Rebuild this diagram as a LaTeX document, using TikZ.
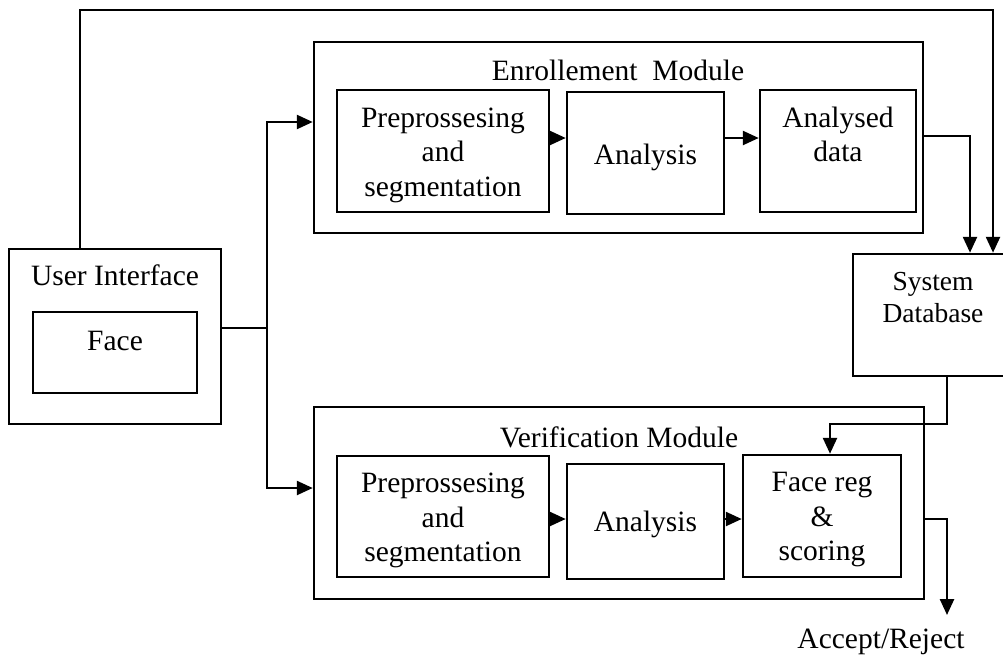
\documentclass[tikz,border=0pt]{standalone}
\usepackage{fontspec}
\setmainfont{Liberation Serif}
\usetikzlibrary{arrows.meta,calc}
\newcommand{\mainfs}{\fontsize{29.5}{34.5}\selectfont}
\newcommand{\smallfs}{\fontsize{27.5}{32}\selectfont}
\begin{document}
\begin{tikzpicture}[x=1pt,y=-1pt,line width=2.5pt,
  box/.style={draw,line width=2.5pt,inner sep=0pt},
  txt/.style={inner sep=0pt,align=center,font=\mainfs,anchor=base},
  txtc/.style={inner sep=0pt,align=center,font=\mainfs},
  arr/.style={-{Triangle[length=16pt,width=14pt]}},
  conn/.style={line width=2.5pt,line join=miter}]
\useasboundingbox (0,0) rectangle (1003,656);
% boxes
\node[box,minimum width=212pt,minimum height=175pt] (ui) at (115,336.5) {};
\node[box,minimum width=164pt,minimum height=81pt] (face) at (115,352.5) {};
\node[box,minimum width=609pt,minimum height=191pt] (enr) at (618.5,137.5) {};
\node[box,minimum width=212pt,minimum height=122pt] (ep) at (443,151) {};
\node[box,minimum width=157pt,minimum height=122pt] (ea) at (645.5,153) {};
\node[box,minimum width=156pt,minimum height=122pt] (ed) at (838,151) {};
\node[box,minimum width=162pt,minimum height=122pt] (db) at (934,315) {};
\node[box,minimum width=610pt,minimum height=192pt] (ver) at (619,503) {};
\node[box,minimum width=212pt,minimum height=121pt] (vp) at (443,516.5) {};
\node[box,minimum width=157pt,minimum height=115pt] (va) at (645.5,521.5) {};
\node[box,minimum width=158pt,minimum height=122pt] (fr) at (822,516) {};
% texts
\node[txtc] (tep) at ($(ep)+(0,4)$) {Preprossesing\\and\\segmentation};
\node[txtc] (tea) at ($(ea)+(0,4)$) {Analysis};
\node[txtc] (tvp) at ($(vp)+(0,4)$) {Preprossesing\\and\\segmentation};
\node[txtc] (tva) at ($(va)+(0,3)$) {Analysis};
\node[txtc] (tfr) at ($(fr)+(0,4)$) {Face reg\\\&\\scoring};
\node[txt] (tenr) at (618,80) {Enrollement\ \ Module};
\node[txt] (tver) at (619,447) {Verification Module};
\node[txt] (tui) at (115,285) {User Interface};
\node[txt] (tface) at (115,350) {Face};
\node[txt] (ted1) at (838,127) {Analysed};
\node[txt] (ted2) at (838,161) {data};
\node[txt,font=\smallfs] (tdb1) at (933,290) {System};
\node[txt,font=\smallfs] (tdb2) at (933,322) {Database};
\node[txt] (tacc) at (881,648) {Accept/Reject};
% connector coordinates
\coordinate (t1) at (80,10);
\coordinate (t2) at (993,10);
\coordinate (e1) at (970,136);
\coordinate (jx) at (267,328);
\coordinate (ja) at (267,122);
\coordinate (jb) at (267,488);
\coordinate (a1) at (0,138);
\coordinate (a2) at (0,519);
\coordinate (k1) at (947,424);
\coordinate (k2) at (830,424);
\coordinate (o1) at (947,519);
\coordinate (o2) at (947,615);
% connectors
\draw[conn,arr] (ui.north -| t1) -- (t1) -- (t2) -- (t2 |- db.north);
\draw[conn,arr] (e1 -| enr.east) -- (e1) -- (e1 |- db.north);
\draw[conn] (jx -| ui.east) -- (jx);
\draw[conn,arr] (jx) -- (ja) -- (ja -| enr.west);
\draw[conn,arr] (jx) -- (jb) -- (jb -| ver.west);
\draw[conn,arr] (a1 -| ep.east) -- (a1 -| ea.west);
\draw[conn,arr] (a1 -| ea.east) -- (a1 -| ed.west);
\draw[conn,arr] (a2 -| vp.east) -- (a2 -| va.west);
\draw[conn,arr] (a2 -| va.east) -- (a2 -| fr.west);
\draw[conn,arr] (k1 |- db.south) -- (k1) -- (k2) -- (k2 |- fr.north);
\draw[conn,arr] (o1 -| ver.east) -- (o1) -- (o2);
\end{tikzpicture}
\end{document}
